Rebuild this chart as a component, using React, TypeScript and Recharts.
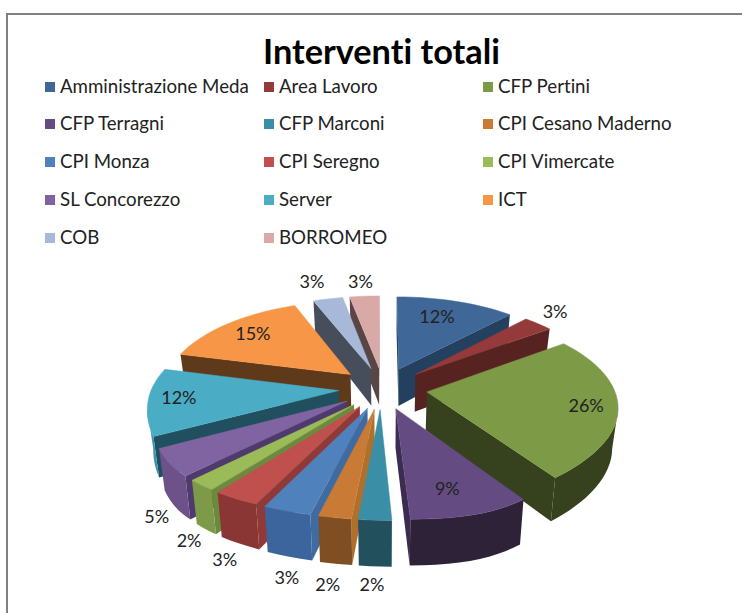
import { Pie, PieChart } from "recharts";

const names = [
  "Amministrazione Meda",
  "Area Lavoro",
  "CFP Pertini",
  "CFP Terragni",
  "CFP Marconi",
  "CPI Cesano Maderno",
  "CPI Monza",
  "CPI Seregno",
  "CPI Vimercate",
  "SL Concorezzo",
  "Server",
  "ICT",
  "COB",
  "BORROMEO",
];
const shares = [12, 3, 26, 9, 2, 2, 3, 3, 2, 5, 12, 15, 3, 3];

const topColors = [
  "#3f6797", "#953a3a", "#7d9a47", "#644c82", "#3a8ea6", "#c97b36", "#4f81bd",
  "#c0504d", "#9bbb59", "#8064a2", "#4bacc6", "#f79646", "#a7b8d8", "#d9a9a8",
];
const rimColors = [
  "#24405f", "#562320", "#36421d", "#2d2238", "#22505c", "#7f4f23", "#3b659c",
  "#8a3634", "#7c9a48", "#6c5289", "#3d93ab", "#5f3a1a", "#464e5c", "#5a4545",
];
const cutColors = [
  "#24405f", "#562320", "#36421d", "#3b2d52", "#22505c", "#b0702c", "#3f6ba0",
  "#8f3a38", "#6c8a3d", "#4f3a6e", "#20505f", "#5f3a1a", "#464e5c", "#5a4545",
];
// label offset from the middle of each slice's rim
const labelNudge = [
  [-19, 15], [17, -13], [-32, -4], [-30, -26], [-3, 64], [-7, 66], [0, 66],
  [-11, 60], [-12, 55], [-12, 53], [31, -5], [25, 9], [-16, -18], [-4, -15],
];

const tableData = names.map((name, i) => ({ name, value: shares[i] }));

const EXPLODE = 0.237;
const PERSPECTIVE = 0.145;
const SQUASH = 0.47;
const DEPTH = 38;

const rad = (d: number) => (d * Math.PI) / 180;

// Recharts angles run counter-clockwise from 3 o'clock, these run clockwise from 12
const toClock = (angle: number) => 90 - angle;

const project = (cx: number, cy: number, R: number, theta: number, r: number, mid: number) => {
  const u = r * Math.sin(rad(theta)) + EXPLODE * Math.sin(rad(mid));
  const v = -(r * Math.cos(rad(theta)) + EXPLODE * Math.cos(rad(mid)));
  const s = 1 / (1 - PERSPECTIVE * v);
  // the original's front rim is pulled apart a little either side of the camera axis
  const warp =
    17 * r * Math.exp(-(((theta - 168) / 22) ** 2)) -
    11 * r * Math.exp(-(((theta - 222) / 22) ** 2));
  return { x: cx + R * u * s + warp, y: cy + R * SQUASH * v * s, s };
};

type Pt = { x: number; y: number; s: number };

const drop = (p: Pt, cx: number) => ({
  x: cx + (p.x - cx) * 0.975,
  y: p.y + DEPTH * p.s,
});

const poly = (pts: { x: number; y: number }[]) =>
  pts.map((p) => `${p.x.toFixed(1)},${p.y.toFixed(1)}`).join(" ");

const Slice3D = (props: any) => {
  const { cx, cy, outerRadius, startAngle, endAngle, name } = props;
  const i = names.indexOf(name);
  const a0 = toClock(startAngle);
  const a1 = toClock(endAngle);
  const mid = (a0 + a1) / 2;
  const steps = Math.max(2, Math.ceil((a1 - a0) / 3));
  const rim: Pt[] = [];
  for (let k = 0; k <= steps; k++) {
    rim.push(project(cx, cy, outerRadius, a0 + ((a1 - a0) * k) / steps, 1, mid));
  }
  const apex = project(cx, cy, outerRadius, mid, 0, mid);
  const cut = (a: Pt, b: Pt, key: string) =>
    b.x < a.x ? <polygon key={key} points={poly([a, b, drop(b, cx), drop(a, cx)])} fill={cutColors[i]} /> : null;
  // only the part of the outer wall that faces the viewer
  const front = rim.filter(
    (p, k) => (k < steps && rim[k + 1].x < p.x) || (k > 0 && p.x < rim[k - 1].x),
  );
  return (
    <g>
      {cut(apex, rim[0], "cut-a")}
      {cut(rim[steps], apex, "cut-b")}
      {front.length > 1 && (
        <polygon
          points={poly([...front, ...front.map((p) => drop(p, cx)).reverse()])}
          fill={rimColors[i]}
        />
      )}
      <polygon points={poly([apex, ...rim])} fill={topColors[i]} stroke={topColors[i]} strokeWidth={0.5} />
    </g>
  );
};

const SliceLabel = (props: any) => {
  const { cx, cy, outerRadius, midAngle, name } = props;
  const i = names.indexOf(name);
  const mid = toClock(midAngle);
  const p = project(cx, cy, outerRadius, mid, 1, mid);
  return (
    <text
      x={p.x + labelNudge[i][0]}
      y={p.y + labelNudge[i][1]}
      textAnchor="middle"
      dominantBaseline="central"
      fontFamily="Lato"
      fontSize={18}
      fill="#222"
    >
      {shares[i]}%
    </text>
  );
};

// rear slices first so the nearer ones paint over them
let running = 0;
const midAngles = shares.map((v) => {
  const m = ((running + v / 2) / 100) * 360;
  running += v;
  return m;
});
const drawOrder = names
  .map((_, i) => i)
  .sort((a, b) => Math.cos(rad(midAngles[b])) - Math.cos(rad(midAngles[a])));

const legendColumns = [45, 264, 483];
const legendRows = [86, 123, 161, 199, 237];

const LegendGrid = () => (
  <>
    {names.map((name, i) => (
      <div
        key={name}
        style={{
          position: "absolute",
          left: legendColumns[i % 3],
          top: legendRows[Math.floor(i / 3)] - 13,
          height: 26,
          display: "flex",
          alignItems: "center",
          fontFamily: "Lato",
          fontSize: 18.7,
          fontVariantLigatures: "none",
          color: "#222",
          whiteSpace: "nowrap",
        }}
      >
        <span style={{ width: 10, height: 10, background: topColors[i], marginRight: 5, marginTop: 2 }} />
        {name}
      </div>
    ))}
  </>
);

const App = () => {
  return (
    <div style={{ position: "fixed", left: 0, top: 0, width: 742, height: 613, background: "#fff", overflow: "hidden" }}>
      <PieChart width={742} height={613} margin={{ top: 0, right: 0, bottom: 0, left: 0 }}>
        {drawOrder.map((idx) => (
          <Pie
            key={names[idx]}
            data={tableData}
            dataKey="value"
            nameKey="name"
            cx={383}
            cy={388}
            outerRadius={187}
            startAngle={90}
            endAngle={-270}
            isAnimationActive={false}
            shape={(p: any) => (p.name === names[idx] ? <Slice3D {...p} /> : <g />)}
          />
        ))}
        <Pie
          data={tableData}
          dataKey="value"
          nameKey="name"
          cx={383}
          cy={388}
          outerRadius={187}
          startAngle={90}
          endAngle={-270}
          isAnimationActive={false}
          shape={() => <g />}
          label={SliceLabel}
          labelLine={false}
        />
      </PieChart>
      <LegendGrid />
      <div
        style={{
          position: "absolute",
          left: 6,
          top: 13,
          width: 736,
          height: 600,
          boxSizing: "border-box",
          borderLeft: "2px solid #808080",
          borderTop: "2px solid #808080",
          pointerEvents: "none",
        }}
      />
      <div
        style={{
          position: "absolute",
          left: 263,
          top: 30,
          fontFamily: "Lato",
          fontWeight: 700,
          fontSize: 34.3,
          fontVariantLigatures: "none",
          color: "#000",
          whiteSpace: "nowrap",
        }}
      >
        Interventi totali
      </div>
    </div>
  );
};

export default App;
